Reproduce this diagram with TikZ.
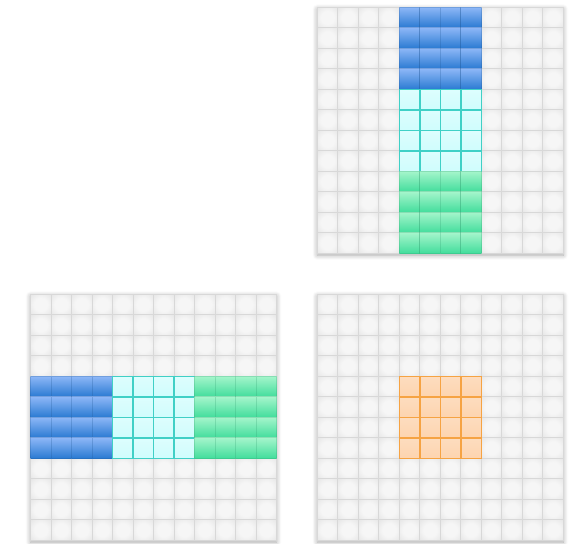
\documentclass[tikz,border=0pt]{standalone}
\usepackage{tikz}
\usetikzlibrary{shadows.blur}

\definecolor{cellgray}{HTML}{F6F6F6}
\definecolor{cellshade}{HTML}{DCDCDC}
\definecolor{cellline}{HTML}{D8D8D8}
\definecolor{bluetop}{HTML}{8DB7F7}
\definecolor{bluebot}{HTML}{2A7AD2}
\definecolor{greentop}{HTML}{A4F5CB}
\definecolor{greenbot}{HTML}{42DD9C}
\definecolor{cyanfill}{HTML}{CFFDFD}
\definecolor{cyanline}{HTML}{40D0C6}
\definecolor{orangefill}{HTML}{FDD4AF}
\definecolor{orangeline}{HTML}{F6A343}

\pgfdeclareradialshading{tileshade}{\pgfpoint{0bp}{0bp}}{color(0bp)=(cellgray); color(16bp)=(cellgray); color(38bp)=(cellshade!70!cellgray); color(50bp)=(cellshade)}

\tikzset{
  plaincell/.style={draw=cellline, line width=0.8pt, shading=tileshade},
  bluecell/.style={draw=bluebot!70!black, draw opacity=0.25, line width=0.6pt, top color=bluetop, bottom color=bluebot},
  greencell/.style={draw=greenbot!70!black, draw opacity=0.25, line width=0.6pt, top color=greentop, bottom color=greenbot},
  cyancell/.style={draw=cyanline, line width=1.2pt, top color=cyanfill!70!white, bottom color=cyanfill},
  orangecell/.style={draw=orangeline, line width=1.2pt, top color=orangefill!80!white, bottom color=orangefill},
  gridshadow/.style={fill=white, blur shadow={shadow blur steps=6, shadow xshift=0pt, shadow yshift=-1.5pt, shadow opacity=35, shadow blur radius=4pt}}
}

% 12x12 board of plain tiles, lower left corner at (#1,#2)
\newcommand{\tileboard}[2]{
  \fill[gridshadow] (#1,#2) rectangle ++(12,12);
  \foreach \c in {0,...,11}
    \foreach \r in {0,...,11}
      \draw[plaincell] (#1+\c,#2+\r) rectangle ++(1,1);
}

% block of tiles: style, board corner x, y, first column, first row (from top), columns, rows
\newcommand{\tileblock}[7]{
  \foreach \c in {1,...,#6}
    \foreach \r in {1,...,#7}
      \draw[#1] (#2+#4+\c-1,#3+12-#5-\r) rectangle ++(1,1);
}

\begin{document}
\begin{tikzpicture}[x=0.6cm,y=0.6cm]
\useasboundingbox (0,0) rectangle (28.098,26.537);

% Top board: column of blocks
\tileboard{15.478}{14.181}
\tileblock{bluecell}{15.478}{14.181}{4}{0}{4}{4}
\tileblock{cyancell}{15.478}{14.181}{4}{4}{4}{4}
\tileblock{greencell}{15.478}{14.181}{4}{8}{4}{4}

% Bottom left board: row of blocks
\tileboard{1.488}{0.181}
\tileblock{bluecell}{1.488}{0.181}{0}{4}{4}{4}
\tileblock{cyancell}{1.488}{0.181}{4}{4}{4}{4}
\tileblock{greencell}{1.488}{0.181}{8}{4}{4}{4}

% Bottom right board: single block
\tileboard{15.478}{0.181}
\tileblock{orangecell}{15.478}{0.181}{4}{4}{4}{4}
\end{tikzpicture}
\end{document}
